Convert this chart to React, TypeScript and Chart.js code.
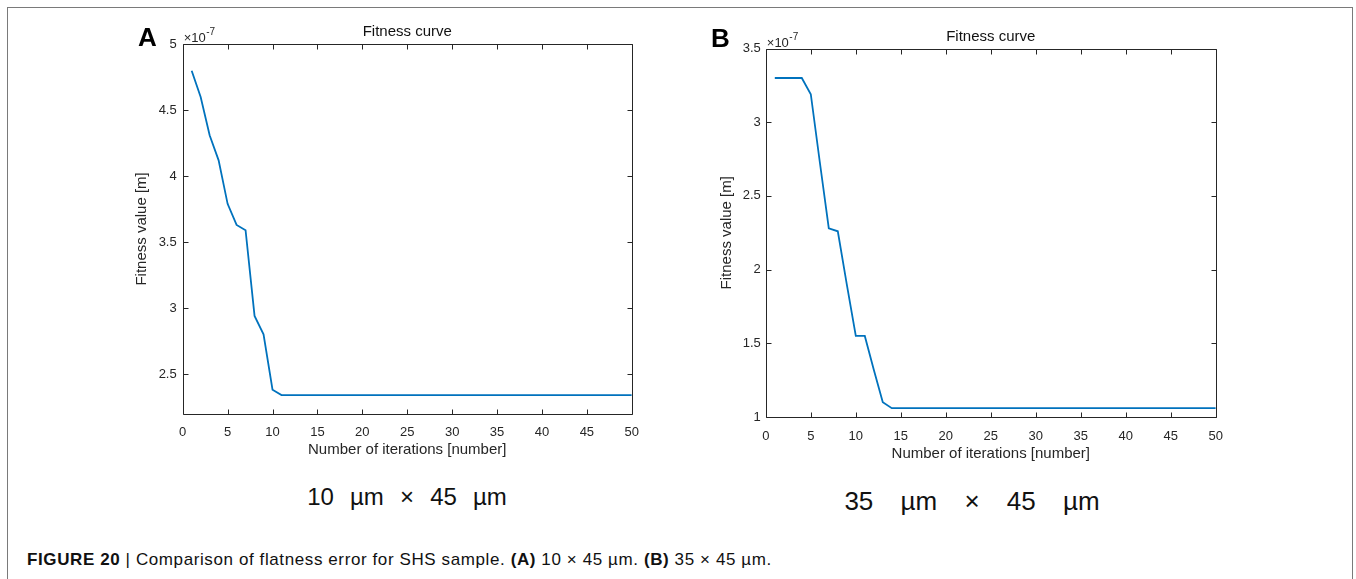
import React, { useEffect, useRef } from "react";
import { Chart, registerables } from "chart.js";

Chart.register(...registerables);

// ---------- data ----------
const iterations = [
  1, 2, 3, 4, 5, 6, 7, 8, 9, 10, 11, 12, 13, 14, 15, 16, 17, 18, 19, 20, 21, 22, 23, 24, 25,
  26, 27, 28, 29, 30, 31, 32, 33, 34, 35, 36, 37, 38, 39, 40, 41, 42, 43, 44, 45, 46, 47, 48, 49, 50,
];
// fitness values in units of 1e-7 m
const fitnessA = [
  4.8, 4.6, 4.31, 4.12, 3.79, 3.63, 3.59, 2.94, 2.8, 2.38, 2.34, 2.34, 2.34, 2.34, 2.34, 2.34, 2.34,
  2.34, 2.34, 2.34, 2.34, 2.34, 2.34, 2.34, 2.34, 2.34, 2.34, 2.34, 2.34, 2.34, 2.34, 2.34, 2.34,
  2.34, 2.34, 2.34, 2.34, 2.34, 2.34, 2.34, 2.34, 2.34, 2.34, 2.34, 2.34, 2.34, 2.34, 2.34, 2.34, 2.34,
];
const fitnessB = [
  3.3, 3.3, 3.3, 3.3, 3.19, 2.73, 2.28, 2.26, 1.9, 1.55, 1.55, 1.32, 1.1, 1.06, 1.06, 1.06, 1.06,
  1.06, 1.06, 1.06, 1.06, 1.06, 1.06, 1.06, 1.06, 1.06, 1.06, 1.06, 1.06, 1.06, 1.06, 1.06, 1.06,
  1.06, 1.06, 1.06, 1.06, 1.06, 1.06, 1.06, 1.06, 1.06, 1.06, 1.06, 1.06, 1.06, 1.06, 1.06, 1.06, 1.06,
];
const xTicks = [0, 5, 10, 15, 20, 25, 30, 35, 40, 45, 50];
const xRange = [0, 50];
const yTicksA = [2.5, 3, 3.5, 4, 4.5, 5];
const yRangeA = [2.2, 5];
const yTicksB = [1, 1.5, 2, 2.5, 3, 3.5];
const yRangeB = [1, 3.5];

const chartTitle = "Fitness curve";
const xTitle = "Number of iterations [number]";
const yTitle = "Fitness value [m]";
const expBase = "×10";
const expPower = "-7";
const subtitleA = "10 µm × 45 µm";
const subtitleB = "35 µm × 45 µm";

const FONT = '"Liberation Sans", Arial, Helvetica, sans-serif';
const AXIS_COLOR = "#262626";
const LINE_COLOR = "#0072BD";

const matlabAxes = {
  id: "matlabAxes",
  afterDraw(chart: any, _args: any, opts: any) {
    const { ctx, chartArea, scales } = chart;
    const { left, right, top, bottom } = chartArea;
    const x = scales.x;
    const y = scales.y;
    const r = (v: number) => Math.round(v) + 0.5;
    ctx.save();
    ctx.strokeStyle = AXIS_COLOR;
    ctx.lineWidth = 1;
    ctx.beginPath();
    ctx.rect(r(left), r(top), Math.round(right) - Math.round(left), Math.round(bottom) - Math.round(top));
    ctx.stroke();
    const tl = 5;
    ctx.beginPath();
    for (const t of x.ticks) {
      const px = r(x.getPixelForValue(t.value));
      ctx.moveTo(px, r(bottom));
      ctx.lineTo(px, r(bottom) - tl);
      ctx.moveTo(px, r(top));
      ctx.lineTo(px, r(top) + tl);
    }
    for (const t of y.ticks) {
      const py = r(y.getPixelForValue(t.value));
      ctx.moveTo(r(left), py);
      ctx.lineTo(r(left) + tl, py);
      ctx.moveTo(r(right), py);
      ctx.lineTo(r(right) - tl, py);
    }
    ctx.stroke();

    // title
    ctx.fillStyle = "#111";
    ctx.font = `15px ${FONT}`;
    ctx.textAlign = "center";
    ctx.textBaseline = "middle";
    ctx.fillText(opts.title, (left + right) / 2, top - 12);

    // exponent label
    ctx.fillStyle = AXIS_COLOR;
    ctx.textAlign = "left";
    ctx.textBaseline = "alphabetic";
    ctx.font = `13px ${FONT}`;
    ctx.fillText(opts.expBase, left + 1, top - 2);
    const w = ctx.measureText(opts.expBase).width;
    ctx.font = `10px ${FONT}`;
    ctx.fillText(opts.expPower, left + 1 + w + 0.5, top - 9);
    ctx.restore();
  },
};

type Props = {
  values: number[];
  yRange: number[];
  yTicks: number[];
  left: number;
  top: number;
  width: number;
  height: number;
  pad: { left: number; top: number; right: number; bottom: number };
  yWidth: number;
  xHeight: number;
  yTitlePad: number;
  yTickPad: number;
  xTickPad: number;
};

function FitnessChart(p: Props) {
  const ref = useRef<HTMLCanvasElement | null>(null);
  useEffect(() => {
    if (!ref.current) return;
    const chart = new Chart(ref.current, {
      type: "line",
      data: {
        datasets: [
          {
            data: iterations.map((it, i) => ({ x: it, y: p.values[i] })),
            borderColor: LINE_COLOR,
            borderWidth: 1.8,
            pointRadius: 0,
            tension: 0,
            fill: false,
          },
        ],
      },
      options: {
        animation: false,
        responsive: false,
        devicePixelRatio: 1,
        layout: { padding: p.pad },
        plugins: {
          legend: { display: false },
          tooltip: { enabled: false },
          // @ts-ignore
          matlabAxes: { title: chartTitle, expBase, expPower },
        },
        scales: {
          x: {
            type: "linear",
            min: xRange[0],
            max: xRange[1],
            grid: { display: false, drawTicks: false },
            border: { display: false },
            afterBuildTicks: (s: any) => {
              s.ticks = xTicks.map((v) => ({ value: v }));
            },
            afterFit: (s: any) => {
              s.height = p.xHeight;
            },
            ticks: {
              padding: p.xTickPad,
              color: AXIS_COLOR,
              font: { family: FONT, size: 13 },
              maxRotation: 0,
              autoSkip: false,
              callback: (v: any) => String(v),
            },
            title: {
              display: true,
              text: xTitle,
              color: AXIS_COLOR,
              font: { family: FONT, size: 15 },
              padding: { top: 0, bottom: 0 },
            },
          },
          y: {
            type: "linear",
            min: p.yRange[0],
            max: p.yRange[1],
            grid: { display: false, drawTicks: false },
            border: { display: false },
            afterBuildTicks: (s: any) => {
              s.ticks = p.yTicks.map((v) => ({ value: v }));
            },
            afterFit: (s: any) => {
              s.width = p.yWidth;
            },
            ticks: {
              padding: p.yTickPad,
              color: AXIS_COLOR,
              font: { family: FONT, size: 13 },
              autoSkip: false,
              callback: (v: any) => String(v),
            },
            title: {
              display: true,
              text: yTitle,
              color: AXIS_COLOR,
              font: { family: FONT, size: 15 },
              padding: { top: p.yTitlePad, bottom: 0 },
            },
          },
        },
      },
      plugins: [matlabAxes as any],
    });
    return () => chart.destroy();
  }, []);
  return (
    <canvas
      ref={ref}
      width={p.width}
      height={p.height}
      style={{ position: "absolute", left: p.left, top: p.top, width: p.width, height: p.height }}
    />
  );
}

export default function App() {
  return (
    <div
      style={{
        position: "absolute",
        left: 0,
        top: 0,
        width: 1356,
        height: 579,
        background: "#fff",
        overflow: "hidden",
        fontFamily: FONT,
      }}
    >
      <div
        style={{
          position: "absolute",
          left: 7,
          top: 7,
          width: 1346,
          height: 640,
          border: "1.5px solid #7a7a7a",
          boxSizing: "border-box",
        }}
      />
      <FitnessChart
        values={fitnessA}
        yRange={yRangeA}
        yTicks={yTicksA}
        left={120}
        top={0}
        width={530}
        height={472}
        pad={{ left: 0, top: 44.3, right: 16.2, bottom: 13 }}
        yWidth={62.7}
        xHeight={45.5}
        yTitlePad={13}
        yTickPad={6}
        xTickPad={11}
      />
      <FitnessChart
        values={fitnessB}
        yRange={yRangeB}
        yTicks={yTicksB}
        left={700}
        top={0}
        width={535}
        height={478}
        pad={{ left: 0, top: 48.5, right: 18, bottom: 15 }}
        yWidth={65.8}
        xHeight={46}
        yTitlePad={18}
        yTickPad={5}
        xTickPad={12}
      />
      <div style={{ position: "absolute", left: 138, top: 23.6, fontSize: 26, lineHeight: "26px", fontWeight: "bold", color: "#000" }}>A</div>
      <div style={{ position: "absolute", left: 711, top: 24.6, fontSize: 26, lineHeight: "26px", fontWeight: "bold", color: "#000" }}>B</div>
      <div
        style={{
          position: "absolute",
          left: 207,
          width: 400,
          top: 485,
          fontSize: 24,
          lineHeight: "24px",
          textAlign: "center",
          wordSpacing: 9.5,
          color: "#111",
          whiteSpace: "pre",
        }}
      >
        {subtitleA}
      </div>
      <div
        style={{
          position: "absolute",
          left: 772,
          width: 400,
          top: 488,
          fontSize: 26,
          lineHeight: "26px",
          textAlign: "center",
          wordSpacing: 20,
          color: "#111",
          whiteSpace: "pre",
        }}
      >
        {subtitleB}
      </div>
      <div
        style={{
          position: "absolute",
          left: 27,
          top: 551,
          fontSize: 17,
          lineHeight: "17px",
          letterSpacing: 0.6,
          color: "#111",
          whiteSpace: "pre",
        }}
      >
        <b>FIGURE 20</b>
        {" | Comparison of flatness error for SHS sample. "}
        <b>(A)</b>
        {" 10 × 45 µm. "}
        <b>(B)</b>
        {" 35 × 45 µm."}
      </div>
    </div>
  );
}
